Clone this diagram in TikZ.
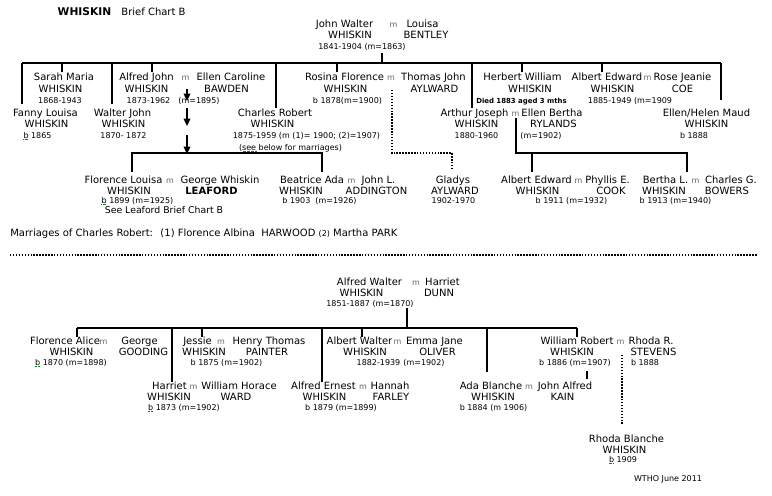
\documentclass[tikz,border=0pt]{standalone}
\usepackage{fontspec}
\setmainfont{DejaVu Sans}
\usetikzlibrary{arrows.meta}
\begin{document}
\begin{tikzpicture}[x=0.75pt,y=-0.75pt,
 nm/.style={font=\fontsize{7.5}{9}\selectfont,inner sep=0pt,anchor=base},
 dt/.style={font=\fontsize{6}{7}\selectfont,inner sep=0pt,anchor=base},
 mm/.style={font=\fontsize{6}{7}\selectfont,text=black!60,inner sep=0pt,anchor=base},
 ln/.style={line width=0.9pt},
 dl/.style={line width=1.6pt,dash pattern=on 1.1pt off 1.1pt},
 sq/.style={green!55!black,line width=0.5pt,dash pattern=on 0.5pt off 0.5pt},
 arr/.style={line width=0.9pt,-{Triangle[width=5pt,length=5.5pt]}}]
\useasboundingbox[fill=white] (0,0) rectangle (772,496);
% ---------- title
\node[nm,font=\fontsize{8}{9}\selectfont\bfseries] (ttl) at (84.5,16) {WHISKIN};
\node[nm] (ttl2) at (153.5,16) {Brief Chart B};
% ---------- top couple
\node[nm] (jwN) at (344.5,27) {John Walter};
\node[mm] (jwM) at (393.5,27) {m};
\node[nm] (lbN) at (422.5,27) {Louisa};
\node[nm] (jwS) at (350,38.5) {WHISKIN};
\node[nm] (lbS) at (426,38.5) {BENTLEY};
\node[dt] (jwD) at (362,49) {1841-1904 (m=1863)};
% ---------- row 1
\node[nm] (smN) at (64,80.5) {Sarah Maria};
\node[nm] (smS) at (60.5,92) {WHISKIN};
\node[dt] (smD) at (60,103) {1868-1943};
\node[nm] (ajN) at (146.5,80.5) {Alfred John};
\node[mm] (ajM) at (185.5,80.5) {m};
\node[nm] (ecN) at (231,80.5) {Ellen Caroline};
\node[nm] (ajS) at (146.5,92) {WHISKIN};
\node[nm] (ecS) at (226.5,92) {BAWDEN};
\node[dt] (ajD) at (148.5,103) {1873-1962};
\node[dt] (ajD2) at (199,103) {(m=1895)};
\node[nm] (rfN) at (344.5,80.5) {Rosina Florence};
\node[mm] (rfM) at (391,80.5) {m};
\node[nm] (tjN) at (433.5,80.5) {Thomas John};
\node[nm] (rfS) at (345.5,92) {WHISKIN};
\node[nm] (tjS) at (434.5,92) {AYLWARD};
\node[dt] (rfD) at (347.5,103) {b 1878(m=1900)};
\node[nm] (hwN) at (522.5,80.5) {Herbert William};
\node[nm] (hwS) at (530,92) {WHISKIN};
\node[dt,font=\fontsize{5.2}{7}\selectfont\bfseries] (hwD) at (521.5,103) {Died 1883 aged 3 mths};
\node[nm] (aeN) at (607,80.5) {Albert Edward};
\node[mm] (aeM) at (647.5,80.5) {m};
\node[nm] (rjN) at (682.5,80.5) {Rose Jeanie};
\node[nm] (aeS) at (612.5,92) {WHISKIN};
\node[nm] (rjS) at (682.5,92) {COE};
\node[dt] (aeD) at (630,103) {1885-1949 (m=1909};
% ---------- row 2
\node[nm] (flN) at (45.5,116) {Fanny Louisa};
\node[nm] (flS) at (46.5,127.5) {WHISKIN};
\node[dt] (flD) at (37.5,138) {b 1865};
\node[nm] (wjN) at (122.5,116) {Walter John};
\node[nm] (wjS) at (123.5,127.5) {WHISKIN};
\node[dt] (wjD) at (123.5,138) {1870- 1872};
\node[nm] (crN) at (275,116) {Charles Robert};
\node[nm] (crS) at (272.5,127.5) {WHISKIN};
\node[dt] (crD) at (306.5,138) {1875-1959 (m (1)= 1900; (2)=1907)};
\node[dt] (crD2) at (290.5,150) {(see below for marriages)};
\node[nm] (ajoN) at (474.5,116) {Arthur Joseph};
\node[mm] (ajoM) at (515.5,116) {m};
\node[nm] (ebN) at (552,116) {Ellen Bertha};
\node[nm] (ajoS) at (476.5,127.5) {WHISKIN};
\node[nm] (ebS) at (553.5,127.5) {RYLANDS};
\node[dt] (ajoD) at (476.5,138) {1880-1960};
\node[dt] (ebD) at (541,138) {(m=1902)};
\node[nm] (ehN) at (706.5,116) {Ellen/Helen Maud};
\node[nm] (ehS) at (706.5,127.5) {WHISKIN};
\node[dt] (ehD) at (694,138) {b 1888};
% ---------- row 3
\node[nm] (flzN) at (123.5,183.5) {Florence Louisa};
\node[mm] (flzM) at (170,183.5) {m};
\node[nm] (gwN) at (220,183.5) {George Whiskin};
\node[nm] (flzS) at (129,194.5) {WHISKIN};
\node[nm,font=\fontsize{7.5}{9}\selectfont\bfseries] (gwS) at (211.5,194.5) {LEAFORD};
\node[dt] (flzD) at (137.5,203) {b 1899 (m=1925)};
\node[nm,font=\fontsize{7}{9}\selectfont] (flzL) at (164,213.5) {See Leaford Brief Chart B};
\node[nm] (baN) at (312,183.5) {Beatrice Ada};
\node[mm] (baM) at (351.5,183.5) {m};
\node[nm] (jlN) at (378.5,183.5) {John L.};
\node[nm] (baS) at (301,194.5) {WHISKIN};
\node[nm] (jlS) at (376.5,194.5) {ADDINGTON};
\node[dt] (baD) at (319.5,203) {b 1903~ (m=1926)};
\node[nm] (gaN) at (453,183.5) {Gladys};
\node[nm] (gaS) at (455,194.5) {AYLWARD};
\node[dt] (gaD) at (453.5,203) {1902-1970};
\node[nm] (aezN) at (536.5,183.5) {Albert Edward};
\node[mm] (aezM) at (578.5,183.5) {m};
\node[nm] (peN) at (607.5,183.5) {Phyllis E.};
\node[nm] (aezS) at (537.5,194.5) {WHISKIN};
\node[nm] (peS) at (611,194.5) {COOK};
\node[dt] (aezD) at (571.5,203) {b 1911 (m=1932)};
\node[nm] (blN) at (665.5,183.5) {Bertha L.};
\node[mm] (blM) at (695.5,183.5) {m};
\node[nm] (cgN) at (731,183.5) {Charles G.};
\node[nm] (blS) at (664,194.5) {WHISKIN};
\node[nm] (cgS) at (727,194.5) {BOWERS};
\node[dt] (blD) at (675.5,203) {b 1913 (m=1940)};
% ---------- marriages
\node[nm,anchor=base west] (mar) at (10,236.5) {Marriages of Charles Robert:~ (1) Florence Albina~ HARWOOD {\fontsize{6}{7}\selectfont(2)} Martha PARK};
% ---------- bottom couple
\node[nm] (awN) at (369.5,285.5) {Alfred Walter};
\node[mm] (awM) at (416,285.5) {m};
\node[nm] (hdN) at (442.5,285.5) {Harriet};
\node[nm] (awS) at (361.5,296.5) {WHISKIN};
\node[nm] (hdS) at (439,296.5) {DUNN};
\node[dt] (awD) at (370,306) {1851-1887 (m=1870)};
% ---------- bottom row 1
\node[nm] (faN) at (65,344.5) {Florence Alice};
\node[mm] (faM) at (103.5,344.5) {m};
\node[nm] (ggN) at (139.5,344.5) {George};
\node[nm] (faS) at (71.5,355.5) {WHISKIN};
\node[nm] (ggS) at (143.5,355.5) {GOODING};
\node[dt] (faD) at (71,365) {b 1870 (m=1898)};
\node[nm] (jeN) at (197.5,344.5) {Jessie};
\node[mm] (jeM) at (221,344.5) {m};
\node[nm] (htN) at (269,344.5) {Henry Thomas};
\node[nm] (jeS) at (204,355.5) {WHISKIN};
\node[nm] (htS) at (267,355.5) {PAINTER};
\node[dt] (jeD) at (226.5,365) {b 1875 (m=1902)};
\node[nm] (abN) at (359.5,344.5) {Albert Walter};
\node[mm] (abM) at (397.5,344.5) {m};
\node[nm] (ejN) at (434.5,344.5) {Emma Jane};
\node[nm] (abS) at (365,355.5) {WHISKIN};
\node[nm] (ejS) at (437.5,355.5) {OLIVER};
\node[dt] (abD) at (378.5,365) {1882-1939};
\node[dt] (ejD) at (424,365) {(m=1902)};
\node[nm] (wrN) at (577,344.5) {William Robert};
\node[mm] (wrM) at (620.5,344.5) {m};
\node[nm] (rrN) at (651,344.5) {Rhoda R.};
\node[nm] (wrS) at (572,355.5) {WHISKIN};
\node[nm] (rrS) at (653.5,355.5) {STEVENS};
\node[dt] (wrD) at (575,365) {b 1886 (m=1907)};
\node[dt] (rrD) at (645,365) {b 1888};
% ---------- bottom row 2
\node[nm] (haN) at (169.5,389.5) {Harriet};
\node[mm] (haM) at (193.5,389.5) {m};
\node[nm] (whN) at (239,389.5) {William Horace};
\node[nm] (haS) at (169,400) {WHISKIN};
\node[nm] (whS) at (236,400) {WARD};
\node[dt] (haD) at (184,410) {b 1873 (m=1902)};
\node[nm] (aeeN) at (323.5,389.5) {Alfred Ernest};
\node[mm] (aeeM) at (363,389.5) {m};
\node[nm] (hfN) at (390,389.5) {Hannah};
\node[nm] (aeeS) at (324.5,400) {WHISKIN};
\node[nm] (hfS) at (391,400) {FARLEY};
\node[dt] (aeeD) at (341,410) {b 1879 (m=1899)};
\node[nm] (adN) at (491,389.5) {Ada Blanche};
\node[mm] (adM) at (529,389.5) {m};
\node[nm] (jaN) at (565,389.5) {John Alfred};
\node[nm] (adS) at (493,400) {WHISKIN};
\node[nm] (jaS) at (562.5,400) {KAIN};
\node[dt] (adD) at (493.5,410) {b 1884 (m 1906)};
\node[nm] (rbN) at (626.5,442.5) {Rhoda Blanche};
\node[nm] (rbS) at (624.5,453) {WHISKIN};
\node[dt] (rbD) at (623,462) {b 1909};
\node[dt] (wtho) at (668,481) {WTHO June 2011};
% ---------- spell-check squiggles
\draw[sq] ([yshift=-1.2pt]flD.base west) -- ++(5,0);
\draw[sq] ([yshift=-1.2pt]flzD.base west) -- ++(5,0);
\draw[sq] ([yshift=-1.2pt]faD.base west) -- ++(5,0);
\draw[sq] ([yshift=-1.2pt]haD.base west) -- ++(5,0);
\draw[sq] ([yshift=-1.2pt]rbD.base west) -- ++(5,0);
\draw[sq] ([xshift=3pt,yshift=-1.2pt]crD2.base west) -- ++(14,0);
% ---------- top connectors
\coordinate (jwA) at (382,53);
\coordinate (jwB) at (382,63);
\coordinate (busL) at (22,63);
\coordinate (busR) at (721,63);
\draw[ln] (jwA) -- (jwB);
\draw[ln] (busL) -- (busR);
\coordinate (flE) at (22,104);   \draw[ln] (busL) -- (flE);
\coordinate (smT) at (62,63);    \coordinate (smE) at (62,72);   \draw[ln] (smT) -- (smE);
\coordinate (wjT) at (112,63);   \coordinate (wjE) at (112,104); \draw[ln] (wjT) -- (wjE);
\coordinate (ajT) at (152,63);   \coordinate (ajE) at (152,72);  \draw[ln] (ajT) -- (ajE);
\coordinate (crT) at (276,63);   \coordinate (crE) at (276,108); \draw[ln] (crT) -- (crE);
\coordinate (rfT) at (337,63);   \coordinate (rfE) at (337,72);  \draw[ln] (rfT) -- (rfE);
\coordinate (ajoT) at (472,63);  \coordinate (ajoE) at (472,108); \draw[ln] (ajoT) -- (ajoE);
\coordinate (hwT) at (522,63);   \coordinate (hwE) at (522,72);  \draw[ln] (hwT) -- (hwE);
\coordinate (aeT) at (602,63);   \coordinate (aeE) at (602,72);  \draw[ln] (aeT) -- (aeE);
\coordinate (ehE) at (721,100);  \draw[ln] (busR) -- (ehE);
% arrows from Alfred John m Ellen Caroline
\coordinate (ar1a) at (187,89);  \coordinate (ar1b) at (187,101); \draw[arr] (ar1a) -- (ar1b);
\coordinate (ar2a) at (187,108); \coordinate (ar2b) at (187,126); \draw[arr] (ar2a) -- (ar2b);
\coordinate (ar3a) at (187,135); \coordinate (ar3b) at (187,154); \draw[arr] (ar3a) -- (ar3b);
\coordinate (b2L) at (132,153);  \coordinate (b2R) at (322,153);
\coordinate (flzE) at (132,172); \coordinate (baE) at (322,172);
\draw[ln] (flzE) -- (b2L) -- (b2R) -- (baE);
% Arthur Joseph children
\coordinate (ajoA) at (516,118); \coordinate (ajoB) at (516,153); \coordinate (ajoC) at (687,153);
\coordinate (blE) at (687,172);
\draw[ln] (ajoA) -- (ajoB) -- (ajoC) -- (blE);
\coordinate (aezT) at (532,153); \coordinate (aezE) at (532,172); \draw[ln] (aezT) -- (aezE);
% Rosina dotted line to Gladys
\coordinate (rd1) at (392,90); \coordinate (rd2) at (392,153); \coordinate (rd3) at (452,153); \coordinate (rd4) at (452,170);
\draw[dl] (rd1) -- (rd2) -- (rd3) -- (rd4);
% separator
\coordinate (sepL) at (10,255); \coordinate (sepR) at (757,255);
\draw[dl] (sepL) -- (sepR);
% ---------- bottom connectors
\coordinate (awA) at (407,308); \coordinate (awB) at (407,328);
\draw[ln] (awA) -- (awB);
\coordinate (bbL) at (77,328); \coordinate (bbR) at (577,328);
\draw[ln] (bbL) -- (bbR);
\coordinate (faE) at (77,337);   \draw[ln] (bbL) -- (faE);
\coordinate (haT) at (172,328);  \coordinate (haE) at (172,382); \draw[ln] (haT) -- (haE);
\coordinate (jeT) at (202,328);  \coordinate (jeE) at (202,337); \draw[ln] (jeT) -- (jeE);
\coordinate (aeeT) at (322,328); \coordinate (aeeE) at (322,382); \draw[ln] (aeeT) -- (aeeE);
\coordinate (abT) at (362,328);  \coordinate (abE) at (362,337); \draw[ln] (abT) -- (abE);
\coordinate (adT) at (487,328);  \coordinate (adE) at (487,372); \draw[ln] (adT) -- (adE);
\coordinate (wrE) at (577,337);  \draw[ln] (bbR) -- (wrE);
\coordinate (jaA) at (587,371);  \coordinate (jaB) at (587,379); \draw[ln] (jaA) -- (jaB);
\coordinate (rbA) at (622,355);  \coordinate (rbB) at (622,425); \draw[dl] (rbA) -- (rbB);
\end{tikzpicture}
\end{document}
